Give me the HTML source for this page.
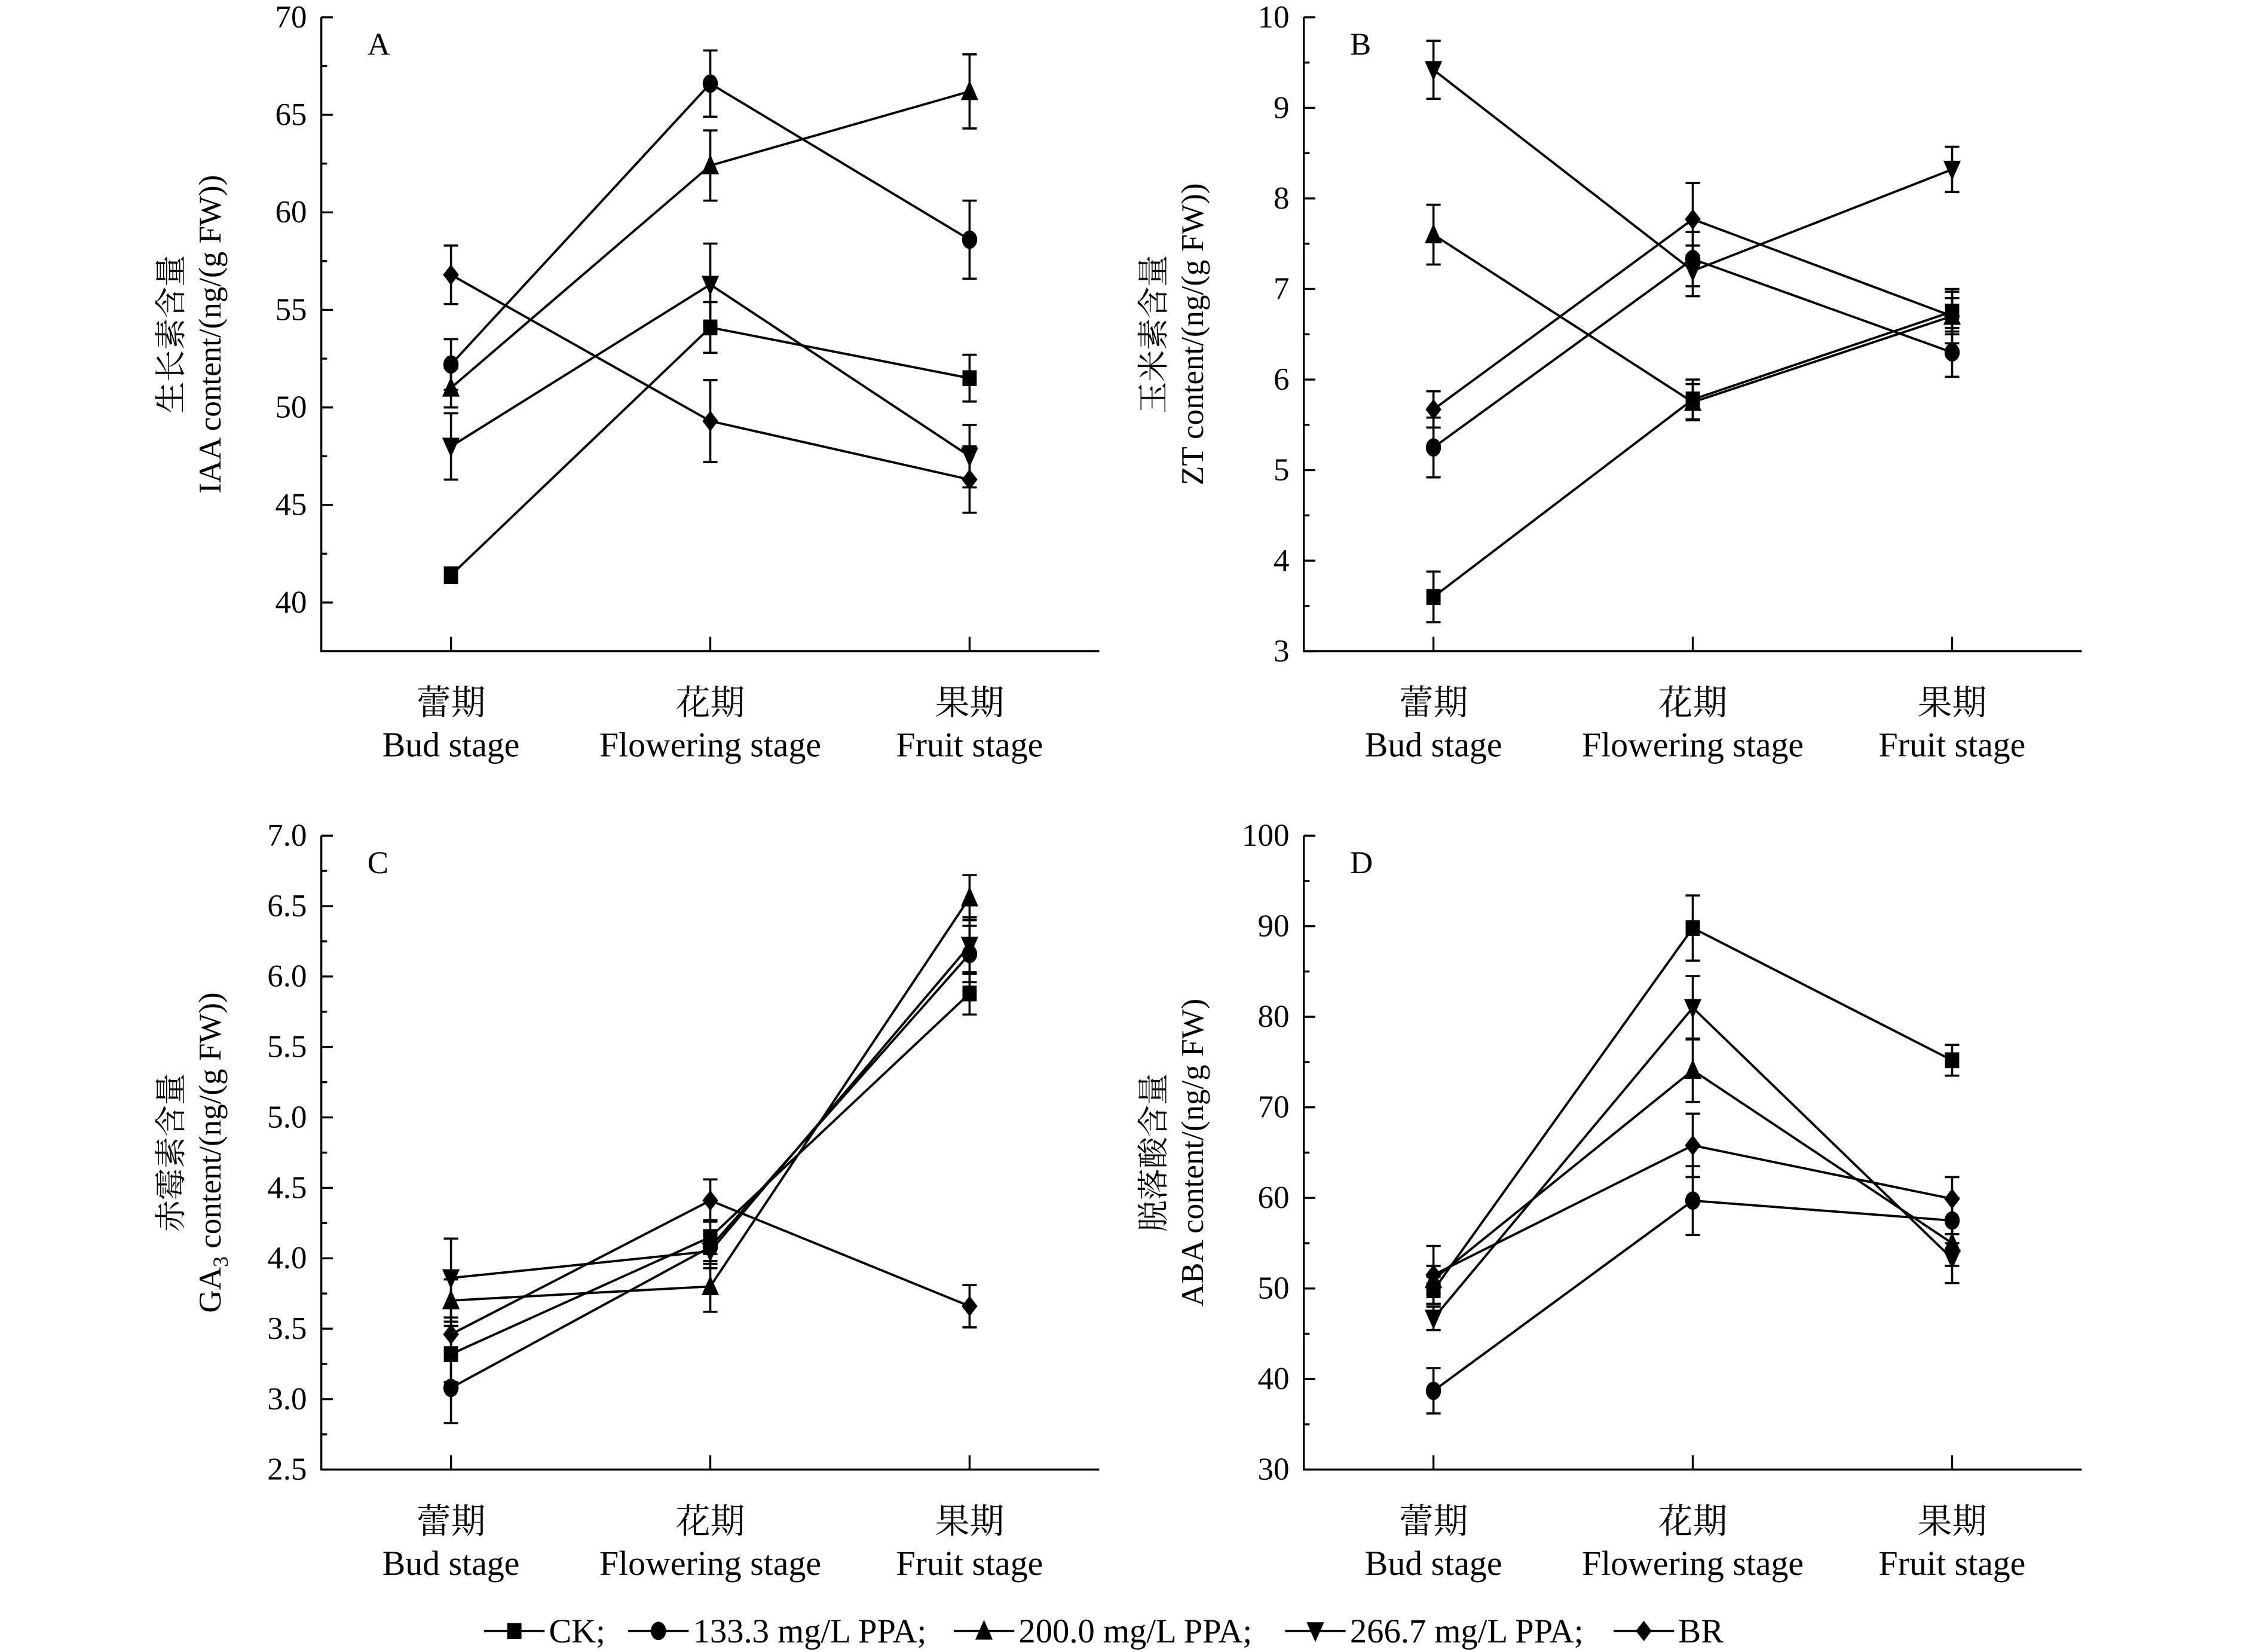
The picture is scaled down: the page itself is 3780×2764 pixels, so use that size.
<!DOCTYPE html>
<html><head><meta charset="utf-8"><style>
html,body{margin:0;padding:0;background:#fff;}
svg{display:block;font-family:"Liberation Serif","Noto Serif CJK SC",serif;}
</style></head><body>
<svg id="fig" xmlns="http://www.w3.org/2000/svg" width="3780" height="2764" viewBox="0 0 1568 1146.6"></svg>
<script>
const categoriesCN = ["蕾期","花期","果期"];
const categoriesEN = ["Bud stage","Flowering stage","Fruit stage"];
const seriesNames = ["CK","133.3 mg/L PPA","200.0 mg/L PPA","266.7 mg/L PPA","BR"];
const markers = ["square","circle","triangle","tri-down","diamond"];

const A_vals = [[41.4,54.1,51.5],[52.2,66.6,58.6],[51.0,62.4,66.2],[48.0,56.3,47.5],[56.8,49.3,46.3]];
const A_errs = [[0.4,1.3,1.2],[1.3,1.7,2.0],[1.0,1.8,1.9],[1.7,2.1,1.6],[1.5,2.1,1.7]];
const A_ticks = [40,45,50,55,60,65,70];
const B_vals = [[3.6,5.78,6.75],[5.25,7.33,6.3],[7.6,5.75,6.7],[9.42,7.2,8.32],[5.67,7.77,6.7]];
const B_errs = [[0.28,0.22,0.22],[0.33,0.3,0.27],[0.33,0.2,0.2],[0.32,0.28,0.25],[0.2,0.4,0.3]];
const B_ticks = [3,4,5,6,7,8,9,10];
const C_vals = [[3.32,4.15,5.88],[3.08,4.08,6.16],[3.7,3.8,6.56],[3.86,4.05,6.22],[3.46,4.41,3.66]];
const C_errs = [[0.2,0.12,0.15],[0.25,0.12,0.2],[0.15,0.18,0.16],[0.28,0.12,0.2],[0.12,0.15,0.15]];
const C_ticks = [2.5,3.0,3.5,4.0,4.5,5.0,5.5,6.0,6.5,7.0];
const D_vals = [[49.8,89.8,75.2],[38.7,59.7,57.5],[51.0,74.1,55.0],[46.7,81.0,53.3],[51.5,65.8,59.9]];
const D_errs = [[1.5,3.6,1.7],[2.5,3.8,2.5],[1.5,3.5,2.5],[1.3,3.5,2.7],[3.2,3.5,2.4]];
const D_ticks = [30,40,50,60,70,80,90,100];

const NS="http://www.w3.org/2000/svg";
const svg=document.getElementById('fig');
function mk(tag,attrs,parent){const e=document.createElementNS(NS,tag);for(const k in attrs)e.setAttribute(k,attrs[k]);(parent||svg).appendChild(e);return e;}
function marker(g,type,x,y,s){
  let e;
  if(type==="square"){e=mk('rect',{x:x-s*0.45,y:y-s*0.5,width:s*0.9,height:s,fill:'#000'},g);}
  else if(type==="circle"){e=mk('ellipse',{cx:x,cy:y,rx:s*0.48,ry:s*0.58,fill:'#000'},g);}
  else if(type==="triangle"){e=mk('polygon',{points:`${x},${y-s*0.7} ${x+s*0.55},${y+s*0.55} ${x-s*0.55},${y+s*0.55}`,fill:'#000'},g);}
  else if(type==="tri-down"){e=mk('polygon',{points:`${x},${y+s*0.7} ${x+s*0.55},${y-s*0.55} ${x-s*0.55},${y-s*0.55}`,fill:'#000'},g);}
  else {e=mk('polygon',{points:`${x},${y-s*0.65} ${x+s*0.5},${y} ${x},${y+s*0.65} ${x-s*0.5},${y}`,fill:'#000'},g);}
  return e;
}
function panel(id,letter,ax,top,bottom,ymin,ymax,ticks,tickFmt,vals,errs,titleCN,titleEN,titleY){
  const g=mk('g',{});
  
  
  const xr=ax+540;
  const ys=v=>bottom-(v-ymin)/(ymax-ymin)*(bottom-top);
  const xs=i=>ax+90+i*180;
  const axis=mk('path',{d:`M${ax},${top} V${bottom} H${xr}`,stroke:'#000','stroke-width':1.4,fill:'none'},g);
  
  
  const step=ticks[1]-ticks[0];
  ticks.forEach((t,k)=>{
    mk('line',{x1:ax,x2:ax+8,y1:ys(t),y2:ys(t),stroke:'#000','stroke-width':1.4},g);
    if(k<ticks.length-1){const m=t+step/2;mk('line',{x1:ax,x2:ax+4,y1:ys(m),y2:ys(m),stroke:'#000','stroke-width':1.4},g);}
    const tx=mk('text',{x:ax-10,y:ys(t)+7,'text-anchor':'end','font-size':22},g);
    tx.textContent=tickFmt(t);
    
    
  });
  categoriesCN.forEach((c,i)=>{
    mk('line',{x1:xs(i),x2:xs(i),y1:bottom,y2:bottom-10,stroke:'#000','stroke-width':1.4},g);
    const t1=mk('text',{x:xs(i),y:bottom+44,'text-anchor':'middle','font-size':24},g);t1.textContent=c;
    
    
    const t2=mk('text',{x:xs(i),y:bottom+73,'text-anchor':'middle','font-size':24},g);t2.textContent=categoriesEN[i];
    
    
  });
  const lt=mk('text',{x:ax+32,y:top+26,'font-size':22},g);lt.textContent=letter;
  
  
  const yt1=mk('text',{x:0,y:0,'text-anchor':'middle','font-size':22,transform:`translate(${ax-97},${titleY}) rotate(-90)`},g);yt1.textContent=titleCN;
  
  
  const yt2=mk('text',{x:0,y:0,'text-anchor':'middle','font-size':22,transform:`translate(${ax-70},${titleY}) rotate(-90)`},g);yt2.innerHTML=titleEN;
  
  
  vals.forEach((sv,si)=>{
    const sg=mk('g',{},g);
    
    
    mk('polyline',{points:sv.map((v,i)=>`${xs(i)},${ys(v)}`).join(' '),fill:'none',stroke:'#000','stroke-width':1.6},sg);
    sv.forEach((v,i)=>{
      const e=errs[si][i];
      const y1=ys(v+e),y2=ys(v-e),x=xs(i);
      mk('path',{d:`M${x},${y1}V${y2}M${x-5},${y1}H${x+5}M${x-5},${y2}H${x+5}`,stroke:'#000','stroke-width':1.5,fill:'none'},sg);
      const m=marker(sg,markers[si],x,ys(v),11);
      
      
    });
  });
}
const f0=t=>String(t), f1=t=>t.toFixed(1);
panel('a','A',223,12,452,37.5,70,A_ticks,f0,A_vals,A_errs,'生长素含量','IAA content/(ng/(g FW))',232);
panel('b','B',905,12,452,3,10,B_ticks,f0,B_vals,B_errs,'玉米素含量','ZT content/(ng/(g FW))',232);
panel('c','C',223,580,1020,2.5,7.0,C_ticks,f1,C_vals,C_errs,'赤霉素含量','GA<tspan font-size="15" dy="5">3</tspan><tspan dy="-5"> content/(ng/(g FW))</tspan>',800);
panel('d','D',905,580,1020,30,100,D_ticks,f0,D_vals,D_errs,'脱落酸含量','ABA content/(ng/g FW)',800);

// legend
const lg=mk('g',{});


const legendX=[336,436,662,892,1120];
seriesNames.forEach((n,i)=>{
  const eg=mk('g',{},lg);
  
  
  const x=legendX[i],y=1132;
  mk('line',{x1:x,x2:x+42,y1:y,y2:y,stroke:'#000','stroke-width':1.6},eg);
  marker(eg,markers[i],x+21,y,11);
  const t=mk('text',{x:x+45,y:y+8,'font-size':23.5},eg);
  t.textContent=n+(i<4?';':'');
});
</script>
</body></html>
